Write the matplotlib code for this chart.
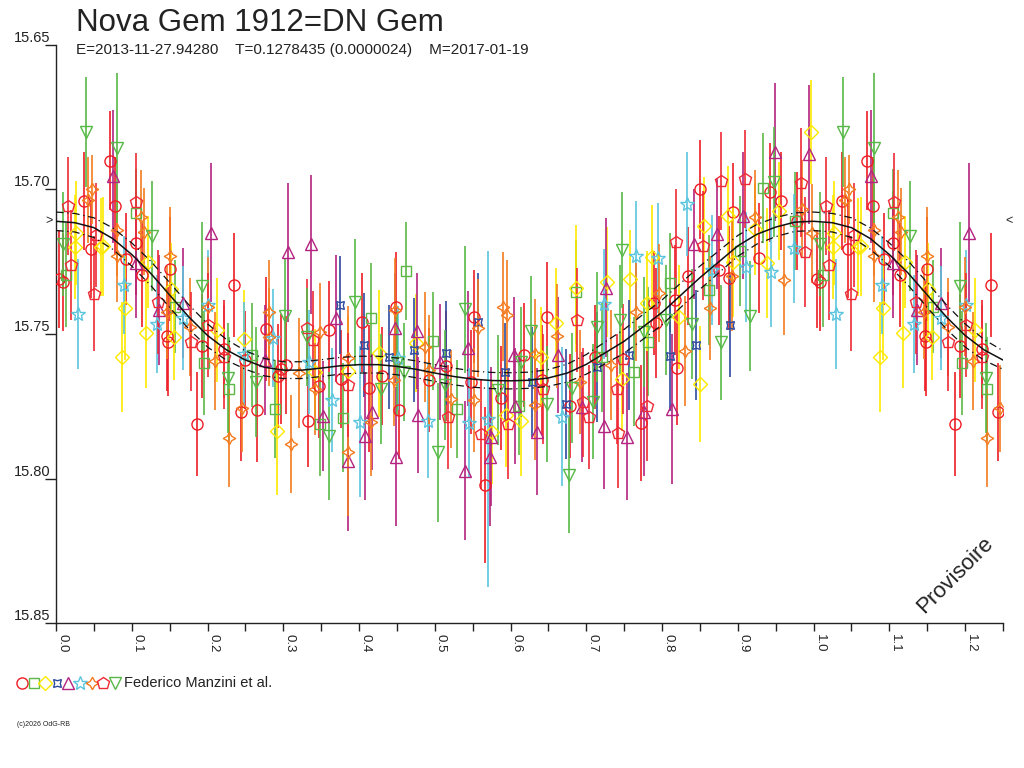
import numpy as np
import matplotlib
matplotlib.use("Agg")
import matplotlib.pyplot as plt

plt.rcParams['font.family'] = ['Liberation Sans', 'DejaVu Sans']

# observations per marker series: phase, magnitude, error
ph_circle = [.071, .037, .078, .046, .105, .093, .004, .009, .114, .150, .147, .148, .193, .2345, .222, .250, .186, .244,
             .2776, .2657, .2965, .3030, .293, .3597, .3465, .333, .4039, .3763, .4127, .4303, .4487, .4531, .4926, .5145,
             .552, .6477, .5476, .566, .5871, .6178, .6411, .6780, .7114,
             .8494, .943, .9574, .978, .8933, .9284, .8748, .8889, .834, .8164, .7892, .7914, .8199, .7717]
mag_circle = [15.690, 15.7039, 15.7056, 15.7207, 15.7186, 15.724, 15.731, 15.732, 15.7296, 15.7275, 15.7506, 15.7526, 15.754, 15.733, 15.7553, 15.759, 15.7812, 15.777,
              15.7483, 15.7763, 15.762, 15.7607, 15.7645, 15.7486, 15.768, 15.780, 15.746, 15.7656, 15.7688, 15.7645, 15.7405, 15.7763, 15.766, 15.761,
              15.744, 15.7442, 15.7665, 15.8023, 15.7723, 15.7573, 15.766, 15.7748, 15.758,
              15.700, 15.701, 15.704, 15.711, 15.7077, 15.7238, 15.728, 15.7307, 15.7299, 15.7382, 15.7394, 15.7463, 15.7616, 15.7807]
err_circle = [.017, .017, .017, .017, .018, .016, .017, .017, .018, .018, .019, .019, .018, .018, .017, .017, .018, .017,
              .018, .018, .019, .017, .018, .017, .018, .016, .017, .017, .022, .017, .019, .017, .018, .019,
              .016, .019, .018, .027, .018, .018, .019, .018, .018,
              .017, .017, .017, .017, .017, .019, .019, .018, .017, .019, .018, .019, .020, .020]

ph_square = [.105, .013, .157, .1954, .229, .2591, .2885, .3491, .416, .3794, .4619, .497,
             .686, .5292, .6112, .7202, .9332, .9758, .9034, .8617, .8103, .7818, .7629]
mag_square = [15.708, 15.7296, 15.7405, 15.760, 15.769, 15.7573, 15.776, 15.7813, 15.7446, 15.7789, 15.7282, 15.7523,
              15.7354, 15.776, 15.775, 15.7579, 15.6996, 15.711, 15.7213, 15.7348, 15.7322, 15.7526, 15.763]
err_square = [.015, .018, .016, .018, .018, .018, .017, .018, .019, .019, .017, .017,
              .018, .017, .017, .019, .019, .017, .019, .019, .017, .019, .019]

ph_diamond = [.027, .0255, .059, .0625, .121, .1515, .091, .1186, .087, .156, .213, .248,
              .2920, .3425, .3860, .4259, .4751,
              .686, .7276, .757, .6595, .5761, .5937, .6134, .6398, .7474,
              .9964, .9547, .8867, .9231, .855, .7870, .9384, .8933, .7804, .8221, .8507]
mag_diamond = [15.715, 15.720, 15.720, 15.7197, 15.725, 15.7345, 15.741, 15.7498, 15.758, 15.751, 15.7486, 15.7518,
               15.7836, 15.7631, 15.7627, 15.7567, 15.7532,
               15.7342, 15.732, 15.7310, 15.7463, 15.7838, 15.778, 15.780, 15.7578, 15.7657,
               15.680, 15.7074, 15.709, 15.7137, 15.7128, 15.7232, 15.7253, 15.7250, 15.7394, 15.744, 15.7673]
err_diamond = [.018, .018, .017, .017, .016, .016, .018, .019, .019, .015, .018, .017,
               .022, .015, .019, .022, .017,
               .022, .019, .017, .019, .018, .018, .019, .017, .018,
               .018, .017, .017, .016, .017, .018, .019, .019, .018, .018, .020]

ph_hourglass = [.3755, .4066, .4399, .4729, .5145, .5572, .5928, .6279, .6727, .7145, .7562, .8902, .8454, .8103]
mag_hourglass = [15.740, 15.7538, 15.758, 15.7555, 15.7565, 15.746, 15.7633, 15.7665, 15.7742, 15.7613, 15.7573, 15.7469, 15.7538, 15.7576]
err_hourglass = [.017, .018, .018, .018, .018, .017, .017, .019, .019, .019, .019, .018, .019, .019]

ph_triangle = [.0755, .205, .105, .136, .168,
               .306, .336, .2754, .352, .369, .386, .4083, .4171, .4474, .4487, .4764, .4782, .507,
               .7254, .5432, .5401, .5748, .5726, .6047, .606, .6354, .6631, .6938, .7232, .7531,
               .9933, .9486, .9064, .8726, .842, .776, .8134]
mag_triangle = [15.6955, 15.715, 15.7255, 15.7417, 15.7394,
                15.7217, 15.719, 15.759, 15.7783, 15.7446, 15.794, 15.7853, 15.777, 15.748, 15.7924, 15.749, 15.778, 15.7596,
                15.734, 15.755, 15.7973, 15.7855, 15.7925, 15.7573, 15.775, 15.7838, 15.7573, 15.7754, 15.7817, 15.7855,
                15.6878, 15.687, 15.709, 15.7154, 15.719, 15.777, 15.776]
err_triangle = [.023, .024, .019, .019, .019,
                .024, .024, .019, .019, .022, .024, .022, .020, .019, .024, .020, .020, .020,
                .024, .020, .024, .024, .024, .020, .020, .022, .020, .019, .022, .022,
                .024, .024, .022, .019, .019, .022, .026]

ph_star = [.090, .029, .168, .133, .2007, .248, .2863, .3346, .3645, .4018, .4509, .4914,
           .7232, .5445, .5696, .6675, .8331, .7651, .7949, .9745, .9442, .9113, .8661]
mag_star = [15.733, 15.743, 15.7446, 15.7466, 15.740, 15.757, 15.7515, 15.7596, 15.7728, 15.7803, 15.7584, 15.780,
            15.7397, 15.7807, 15.7794, 15.7786, 15.705, 15.7230, 15.7236, 15.7204, 15.7286, 15.7269, 15.7278]
err_star = [.017, .019, .018, .017, .019, .018, .017, .018, .018, .026, .018, .020,
            .019, .019, .058, .024, .018, .019, .019, .019, .019, .019, .019]

ph_cross = [.047, .042, .112, .080, .116, .080, .150, .146, .177, .200, .210, .229, .246,
            .281, .281, .3105, .3201, .349, .3425, .3851, .386, .416, .4474, .4457, .4874, .4926,
            .5572, .5902, .5959, .6609, .5213, .5511, .6323, .6319, .6912, .7320,
            .9846, .9231, .9977, .8924, .9613, .863, .7958, .7651, .8309]
mag_cross = [15.700, 15.7036, 15.7094, 15.714, 15.7146, 15.723, 15.723, 15.7425, 15.7475, 15.7405, 15.7593, 15.786, 15.7757,
             15.7423, 15.751, 15.788, 15.7634, 15.7492, 15.769, 15.7584, 15.791, 15.7803, 15.7417, 15.7659, 15.7544, 15.7625,
             15.7478, 15.7405, 15.7434, 15.7506, 15.7726, 15.773, 15.757, 15.7746, 15.7665, 15.7607,
             15.7068, 15.7094, 15.7152, 15.730, 15.7313, 15.7411, 15.7359, 15.7425, 15.7558]
err_cross = [.012, .015, .016, .016, .015, .016, .017, .016, .017, .017, .017, .017, .015,
             .018, .017, .017, .019, .017, .016, .018, .022, .019, .018, .016, .019, .019,
             .017, .019, .019, .018, .017, .018, .019, .019, .018, .019,
             .017, .016, .017, .019, .019, .018, .017, .017, .019]

ph_pentagon = [.016, .106, .053, .020, .050, .135, .178, .2007, .222, .3316, .339, .386,
               .517, .5608, .5968, .6428, .6881, .6956, .7035, .7416, .7399, .7487,
               .909, .8784, .9837, .819, .8537, .9881, .7804]
mag_pentagon = [15.7056, 15.7044, 15.7157, 15.726, 15.736, 15.7388, 15.7526, 15.7469, 15.7578, 15.748, 15.752, 15.7676,
                15.7788, 15.7846, 15.7813, 15.769, 15.745, 15.7737, 15.7786, 15.7844, 15.769, 15.7587,
                15.6964, 15.697, 15.6976, 15.718, 15.7194, 15.7215, 15.775]
err_pentagon = [.017, .017, .018, .019, .020, .018, .017, .018, .018, .017, .017, .018,
                .018, .019, .019, .019, .018, .019, .018, .019, .019, .019,
                .017, .017, .019, .018, .019, .019, .019]

ph_tridown = [.039, .080, .127, .009, .193, .227,
              .302, .2635, .3316, .361, .3952, .429, .45, .459, .5036, .5132,
              .7475, .745, .5393, .6275, .7136, .584, .6134, .6477, .6815, .6771, .7092,
              .9481, .8055, .8397, .9165, .8784, .7761]
mag_tridown = [15.680, 15.6857, 15.716, 15.719, 15.7334, 15.7653,
               15.7437, 15.7665, 15.751, 15.7853, 15.739, 15.769, 15.760, 15.7631, 15.791, 15.7676,
               15.7209, 15.745, 15.7414, 15.749, 15.7475, 15.7694, 15.7596, 15.7742, 15.7688, 15.7988, 15.7734,
               15.6975, 15.7451, 15.7466, 15.7438, 15.7529, 15.7492]
err_tridown = [.019, .026, .019, .018, .022, .019,
               .020, .019, .017, .022, .022, .019, .018, .017, .024, .019,
               .020, .019, .022, .019, .019, .019, .019, .020, .019, .020, .020,
               .019, .019, .019, .019, .020, .019]

# fitted light curve (phase 0..1 step 0.025) and its uncertainty
curve_phase = np.arange(41) * 0.025
curve_mag = [15.7110, 15.7115, 15.7132, 15.7170, 15.7225, 15.7290, 15.7365, 15.7440, 15.7505, 15.7555,
             15.7590, 15.7615, 15.7625, 15.7625, 15.7618, 15.7610, 15.7606, 15.7606, 15.7612, 15.7622,
             15.7635, 15.7647, 15.7656, 15.7661, 15.7662, 15.7660, 15.7652, 15.7635, 15.7605, 15.7565,
             15.7525, 15.7475, 15.7425, 15.7365, 15.7305, 15.7250, 15.7195, 15.7155, 15.7130, 15.7113, 15.7110]
curve_err = [.0032, .0032, .0034, .0037, .0040, .0042, .0043, .0042, .0040, .0036,
             .0032, .0030, .0029, .0029, .0029, .0029, .0029, .0029, .0029, .0029,
             .0029, .0029, .0028, .0028, .0028, .0028, .0029, .0031, .0034, .0038,
             .0041, .0043, .0043, .0042, .0040, .0038, .0036, .0034, .0033, .0032, .0032]

title = "Nova Gem 1912=DN Gem"
subtitle = "E=2013-11-27.94280    T=0.1278435 (0.0000024)    M=2017-01-19"
observer = "Federico Manzini et al."

series = [
    (ph_circle, mag_circle, err_circle, 'o', '#ee1c25', 8),
    (ph_square, mag_square, err_square, 's', '#5db746', 7),
    (ph_diamond, mag_diamond, err_diamond, 'D', '#fde900', 7),
    (ph_hourglass, mag_hourglass, err_hourglass, (4, 1, 45), '#2e4a9e', 8),
    (ph_triangle, mag_triangle, err_triangle, '^', '#b3237f', 8),
    (ph_star, mag_star, err_star, '*', '#5bc5de', 10),
    (ph_cross, mag_cross, err_cross, (4, 1, 0), '#f47c20', 9),
    (ph_pentagon, mag_pentagon, err_pentagon, 'p', '#ee2a36', 9),
    (ph_tridown, mag_tridown, err_tridown, 'v', '#56b947', 8),
]

fig = plt.figure(figsize=(10.24, 7.68), dpi=100)
ax = fig.add_axes([56 / 1024, 1 - 623 / 768, (1003 - 56) / 1024, (623 - 45) / 768])
xmax = 1.2477

for ph, mag, err, mk, col, ms in series:
    ph = np.array(ph)
    mag = np.array(mag)
    err = np.array(err)
    extra = ph + 1 <= xmax
    x = np.concatenate([ph, ph[extra] + 1])
    y = np.concatenate([mag, mag[extra]])
    e = np.concatenate([err, err[extra]])
    ax.errorbar(x, y, yerr=e, fmt='none', ecolor=col, elinewidth=1.2, capsize=0, zorder=2)
    ax.plot(x, y, linestyle='none', marker=mk, ms=ms, mfc='none', mec=col, mew=1.0, zorder=3)

# light curve wrapped to 1.25
cp = np.concatenate([curve_phase, curve_phase[1:11] + 1])
cm = np.concatenate([curve_mag, curve_mag[1:11]])
ce = np.concatenate([curve_err, curve_err[1:11]])
ax.plot(cp, cm, color='#111111', lw=1.1, zorder=5)
ax.plot(cp, cm - ce, color='#111111', lw=0.9, ls=(0, (6, 3, 1, 3)), zorder=5)
ax.plot(cp, cm + ce, color='#111111', lw=0.9, ls=(0, (6, 3, 1, 3)), zorder=5)

ax.set_xlim(0, xmax)
ax.set_ylim(15.85, 15.65)
for s in ['top', 'right']:
    ax.spines[s].set_visible(False)
for s in ['left', 'bottom']:
    ax.spines[s].set_color('#222222')
    ax.spines[s].set_linewidth(1.0)

xt = np.arange(13) * 0.1
ax.set_xticks(xt)
ax.set_xticks(xt + 0.05, minor=True)
ax.set_xticklabels([f"{t:.1f}" for t in xt], rotation=270, ha='left', va='top', fontsize=9.5, color='#222222')
ax.tick_params(axis='x', which='both', length=6, width=1.0, color='#222222', pad=2)

yt = [15.65, 15.70, 15.75, 15.80, 15.85]
ax.set_yticks(yt)
ax.set_yticklabels([f"{t:.2f}" for t in yt], va='bottom', fontsize=10.5, color='#222222')
ax.tick_params(axis='y', length=8, width=1.0, color='#222222', pad=-4)

# brightest point markers at both sides
top = min(curve_mag)
ax.text(-0.004, top, '>', transform=ax.get_yaxis_transform(), ha='right', va='center', fontsize=9, color='#222222')
ax.text(1.003, top, '<', transform=ax.get_yaxis_transform(), ha='left', va='center', fontsize=9, color='#222222')

fig.text(76 / 1024, 1 - 31 / 768, title, fontsize=22.5, color='#222222', va='baseline')
fig.text(76 / 1024, 1 - 54 / 768, subtitle, fontsize=11, color='#222222', va='baseline')

fig.text(955 / 1024, 1 - 575 / 768, 'Provisoire', rotation=45, fontsize=16, color='#222222',
         ha='center', va='center')

# legend row
lg = fig.add_axes([0, 0, 1, 1])
lg.set_xlim(0, 1024)
lg.set_ylim(768, 0)
lg.axis('off')
for i, (ph, mag, err, mk, col, ms) in enumerate(series):
    lg.plot(22 + i * 11.6, 683, linestyle='none', marker=mk, ms=ms, mfc='none', mec=col, mew=1.0)
lg.text(124, 683, observer, fontsize=10.5, color='#222222', va='center')
lg.text(17, 724, '(c)2026 OdG-RB', fontsize=5, color='#222222', va='center')

fig.savefig('out.png', dpi=100)
